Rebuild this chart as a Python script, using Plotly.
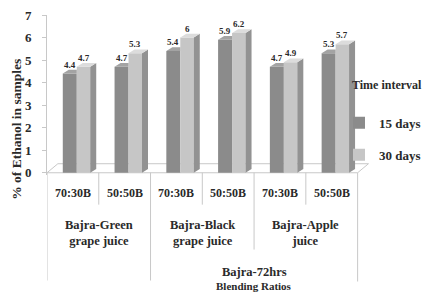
import plotly.graph_objects as go

# ---- data ----
ratios = ["70:30B", "50:50B", "70:30B", "50:50B", "70:30B", "50:50B"]
juices = ["Bajra-Green<br>grape juice", "Bajra-Black<br>grape juice", "Bajra-Apple<br>juice"]
outer_group = "Bajra-72hrs"
days15 = [4.4, 4.7, 5.4, 5.9, 4.7, 5.3]
days30 = [4.7, 5.3, 6.0, 6.2, 4.9, 5.7]
series_names = ["15 days", "30 days"]
y_ticks = [0, 1, 2, 3, 4, 5, 6, 7]

# ---- geometry / style ----
W, H = 431, 297
PAGE = 8            # page offset of the figure inside the browser window
ML, MT = 47 - PAGE, 15 - PAGE
X0, X1 = -0.5, 5.72
Y0, Y1 = -0.1, 7
PLOT_W = 322
PLOT_H = 160.3
MB = H - MT - PLOT_H
MR = W - ML - PLOT_W

def py(Y):  # screen row -> paper y
    return (MT + PLOT_H - (Y - PAGE)) / PLOT_H

def pxp(X):  # screen col -> paper x
    return (X - PAGE - ML) / PLOT_W

FONT = "Liberation Serif"
TXT = "#2a2a2a"
c15_front, c15_top = "#8b8b8b", "#a3a3a3"
c30_front, c30_side, c30_top = "#c6c6c6", "#929292", "#dcdcdc"
grid_c = "#c8c8c8"

off15, w15 = -0.195, 0.27
off30, w30 = 0.075, 0.26
dx, dy = 0.116, 0.17
fdx, fdy = 0.21, 0.4

def bfont(size):
    return dict(family=FONT, size=size, color=TXT, weight="bold")

xs = list(range(len(ratios)))
fig = go.Figure()

fig.add_trace(go.Bar(x=xs, y=days15, name=series_names[0], offset=off15, width=w15,
                     marker=dict(color=c15_front, line=dict(width=0)), legendgroup="a",
                     hoverinfo="y"))
fig.add_trace(go.Bar(x=xs, y=days30, name=series_names[1], offset=off30, width=w30,
                     marker=dict(color=c30_front, line=dict(width=0)), legendgroup="b",
                     hoverinfo="y"))

# top faces of 15-day bars (trimmed where hidden by 30-day bar)
tx, ty = [], []
for i, v in zip(xs, days15):
    xl = i + off15
    xr = xl + w15
    tx += [xl, xl + dx, xr, xr, xl, None]
    ty += [v, v + dy, v + dy, v, v, None]
fig.add_trace(go.Scatter(x=tx, y=ty, fill="toself", fillcolor=c15_top, mode="lines",
                         line=dict(width=0), showlegend=False, hoverinfo="skip"))

# side and top faces of 30-day bars
sx, sy, ux, uy = [], [], [], []
for i, v in zip(xs, days30):
    xl = i + off30
    xr = xl + w30
    sx += [xr, xr + dx, xr + dx, xr, xr, None]
    sy += [0, dy, v + dy, v, 0, None]
    ux += [xl, xl + dx, xr + dx, xr, xl, None]
    uy += [v, v + dy, v + dy, v, v, None]
fig.add_trace(go.Scatter(x=sx, y=sy, fill="toself", fillcolor=c30_side, mode="lines",
                         line=dict(width=0), showlegend=False, hoverinfo="skip"))
fig.add_trace(go.Scatter(x=ux, y=uy, fill="toself", fillcolor=c30_top, mode="lines",
                         line=dict(width=0), showlegend=False, hoverinfo="skip"))

# data labels
for i in xs:
    for v, off, w in ((days15[i], off15, w15), (days30[i], off30, w30)):
        fig.add_annotation(x=i + off + w / 2, y=v + dy, text="%g" % v,
                           showarrow=False, yanchor="bottom", yshift=-2,
                           font=bfont(9))

# floor
fig.add_shape(type="path", xref="x", yref="y", layer="below",
              path=f"M{X0},0 L5.5,0 L{5.5 + fdx},{fdy} L{X0 + fdx},{fdy} Z",
              line=dict(color=grid_c, width=1))

# category separators
sep = [(-0.5, 281), (0.5, 205), (1.5, 281), (2.5, 205), (3.5, 250), (4.5, 205), (5.5, 282)]
for xv, ybot in sep:
    fig.add_shape(type="line", xref="x", yref="paper", x0=xv, x1=xv,
                  y0=py(173), y1=py(ybot), line=dict(color=grid_c, width=1))

# category labels
for i, r in zip(xs, ratios):
    fig.add_annotation(x=i, y=py(193), xref="x", yref="paper", text=r,
                       xanchor="center", yanchor="middle",
                       showarrow=False, font=bfont(12))
for g, j in enumerate(juices):
    fig.add_annotation(x=2 * g + 0.5, y=py(233.5), xref="x", yref="paper",
                       xanchor="center", yanchor="middle",
                       text=j, showarrow=False, font=bfont(12.5))
fig.add_annotation(x=3.5, y=py(272), xref="x", yref="paper", text=outer_group,
                   xanchor="center", yanchor="middle",
                   showarrow=False, font=bfont(12.5))
fig.add_annotation(x=3.5, y=py(287), xref="x", yref="paper", text="Blending Ratios",
                   xanchor="center", yanchor="middle",
                   showarrow=False, font=bfont(11))

# y title
fig.add_annotation(x=pxp(17), y=py(130), xref="paper", yref="paper",
                   xanchor="center", yanchor="middle",
                   text="% of Ethanol in samples", textangle=-90, showarrow=False,
                   font=bfont(13.5))

# legend heading
fig.add_annotation(x=pxp(424), y=py(85), xref="paper", yref="paper",
                   xanchor="right", yanchor="middle", text="Time interval",
                   showarrow=False, font=bfont(12))

fig.update_layout(
    width=W, height=H,
    font=dict(family=FONT, color=TXT),
    margin=dict(l=ML, r=MR, t=MT, b=MB, pad=0),
    paper_bgcolor="white", plot_bgcolor="white",
    barmode="overlay",
    showlegend=True,
    legend=dict(x=pxp(339), y=py(108), xanchor="left", yanchor="top",
                font=bfont(13),
                traceorder="grouped", tracegroupgap=12, bgcolor="rgba(0,0,0,0)"),
    xaxis=dict(range=[X0, X1], visible=False, fixedrange=True, automargin=False),
    yaxis=dict(range=[Y0, Y1], tickvals=y_ticks, showgrid=False, zeroline=False,
               showline=True, linecolor=grid_c, linewidth=1,
               ticks="outside", ticklen=4, tickcolor=grid_c,
               ticklabelstandoff=8, automargin=False, ticklabeloverflow="allow",
               tickfont=bfont(13),
               fixedrange=True),
)

fig.write_html("out.html")
